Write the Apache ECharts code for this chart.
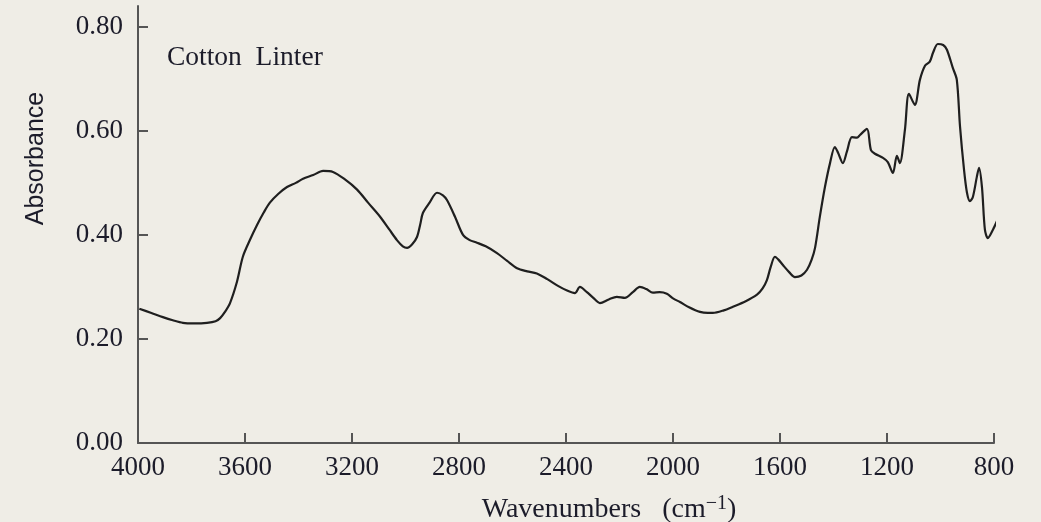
<!DOCTYPE html>
<html>
<head>
<meta charset="utf-8">
<script src="https://cdn.jsdelivr.net/npm/echarts@6/dist/echarts.min.js"></script>
<style>
  html, body { margin: 0; padding: 0; background: #efede6; }
  #chart { width: 1041px; height: 522px; }
</style>
</head>
<body>
<div id="chart"></div>
<script>
// FTIR spectrum of cotton linter: wavenumber (cm^-1) vs absorbance
const wavenumbers = [
  3995, 3950, 3907, 3870, 3832, 3790, 3742, 3710, 3693, 3675, 3656, 3630, 3608, 3580,
  3555, 3530, 3507, 3475, 3443, 3410, 3383, 3345, 3308, 3271, 3230, 3181, 3140, 3095,
  3060, 3032, 3010, 2994, 2975, 2957, 2945, 2935, 2910, 2882, 2860, 2845, 2815, 2785,
  2760, 2733, 2700, 2658, 2620, 2583, 2545, 2509, 2470, 2430, 2396, 2367, 2348, 2322,
  2300, 2273, 2240, 2210, 2180, 2150, 2124, 2100, 2075, 2050, 2023, 2000, 1974, 1940,
  1899, 1870, 1851, 1810, 1776, 1730, 1686, 1665, 1649, 1635, 1619, 1605, 1589, 1565,
  1544, 1520, 1499, 1482, 1469, 1451, 1432, 1413, 1395, 1383, 1365, 1350, 1331, 1312,
  1301, 1275, 1260, 1245, 1215, 1197, 1178, 1163, 1152, 1133, 1118, 1096, 1077, 1058,
  1040, 1028, 1010, 990, 976, 954, 939, 927, 912, 901, 890, 879, 864, 856,
  845, 834, 823, 804, 785
];
const absorbance = [
  0.258, 0.250, 0.242, 0.236, 0.231, 0.230, 0.231, 0.234, 0.240, 0.252, 0.269, 0.310, 0.358, 0.392,
  0.419, 0.443, 0.462, 0.479, 0.492, 0.500, 0.508, 0.515, 0.523, 0.521, 0.508, 0.487, 0.462, 0.435,
  0.410, 0.390, 0.378, 0.375, 0.382, 0.396, 0.420, 0.442, 0.462, 0.481, 0.476, 0.467, 0.435, 0.400,
  0.390, 0.385, 0.378, 0.365, 0.350, 0.336, 0.330, 0.326, 0.315, 0.302, 0.293, 0.288, 0.300, 0.290,
  0.280, 0.269, 0.276, 0.281, 0.279, 0.290, 0.300, 0.296, 0.289, 0.290, 0.287, 0.278, 0.271, 0.261,
  0.252, 0.250, 0.250, 0.255, 0.262, 0.272, 0.285, 0.297, 0.313, 0.338, 0.358, 0.352, 0.342, 0.328,
  0.319, 0.322, 0.333, 0.352, 0.375, 0.435, 0.492, 0.538, 0.569, 0.558, 0.538, 0.560, 0.588, 0.587,
  0.592, 0.604, 0.563, 0.556, 0.548, 0.540, 0.519, 0.552, 0.538, 0.602, 0.671, 0.650, 0.698, 0.725,
  0.733, 0.750, 0.767, 0.765, 0.756, 0.721, 0.698, 0.608, 0.525, 0.481, 0.465, 0.473, 0.512, 0.529,
  0.492, 0.410, 0.394, 0.410, 0.431
];
const yTicks = [0, 0.2, 0.4, 0.6, 0.8];
const sampleName = 'Cotton  Linter';
const xTitle = 'Wavenumbers';
const yTitle = 'Absorbance';

const serif = '"Liberation Serif", "DejaVu Serif", serif';
const inkColor = '#1c1c2a';
const axisColor = '#555555';

const chart = echarts.init(document.getElementById('chart'), null, { renderer: 'canvas' });

chart.setOption({
  backgroundColor: '#efede6',
  animation: false,
  grid: { left: 138, right: 47, top: 6, bottom: 79, containLabel: false, outerBoundsMode: 'none' },
  graphic: [
    {
      type: 'text',
      left: 167, top: 44,
      style: { text: sampleName, font: '27.5px ' + serif, fill: inkColor }
    }
  ],
  xAxis: {
    type: 'value',
    inverse: true,
    min: 800,
    max: 4000,
    interval: 400,
    name: '{t|' + xTitle + '}{t|   (cm}{s|−1}{t|)}',
    nameLocation: 'middle',
    nameGap: 51,
    nameTextStyle: {
      padding: [0, 0, 0, 86],
      rich: {
        t: { fontFamily: serif, fontSize: 28, color: inkColor },
        s: { fontFamily: serif, fontSize: 20, color: inkColor, verticalAlign: 'top', padding: [0, 0, 12, 0] }
      }
    },
    axisLine: { show: true, onZero: false, lineStyle: { color: axisColor, width: 2 } },
    axisTick: { show: true, inside: true, length: 10, lineStyle: { color: axisColor, width: 2 } },
    axisLabel: { margin: 11, fontFamily: serif, fontSize: 27, color: inkColor, formatter: v => String(v) },
    splitLine: { show: false }
  },
  yAxis: {
    type: 'value',
    min: 0,
    max: 0.84,
    name: yTitle,
    nameLocation: 'middle',
    nameRotate: 90,
    nameGap: 89,
    nameTextStyle: {
      fontFamily: '"Liberation Sans", Arial, sans-serif',
      fontSize: 25,
      color: inkColor,
      padding: [0, 0, 0, 132]
    },
    axisLine: { show: true, onZero: false, lineStyle: { color: axisColor, width: 2 } },
    axisTick: { show: true, inside: true, length: 10, customValues: yTicks, lineStyle: { color: axisColor, width: 2 } },
    axisLabel: {
      margin: 15,
      customValues: yTicks,
      fontFamily: serif, fontSize: 27, color: inkColor,
      formatter: v => v.toFixed(2)
    },
    splitLine: { show: false }
  },
  series: [
    {
      type: 'line',
      data: wavenumbers.map((w, i) => [w, absorbance[i]]),
      showSymbol: false,
      smooth: 0.3,
      clip: false,
      lineStyle: { color: '#1f1f1f', width: 2.2 }
    }
  ]
});
</script>
</body>
</html>
